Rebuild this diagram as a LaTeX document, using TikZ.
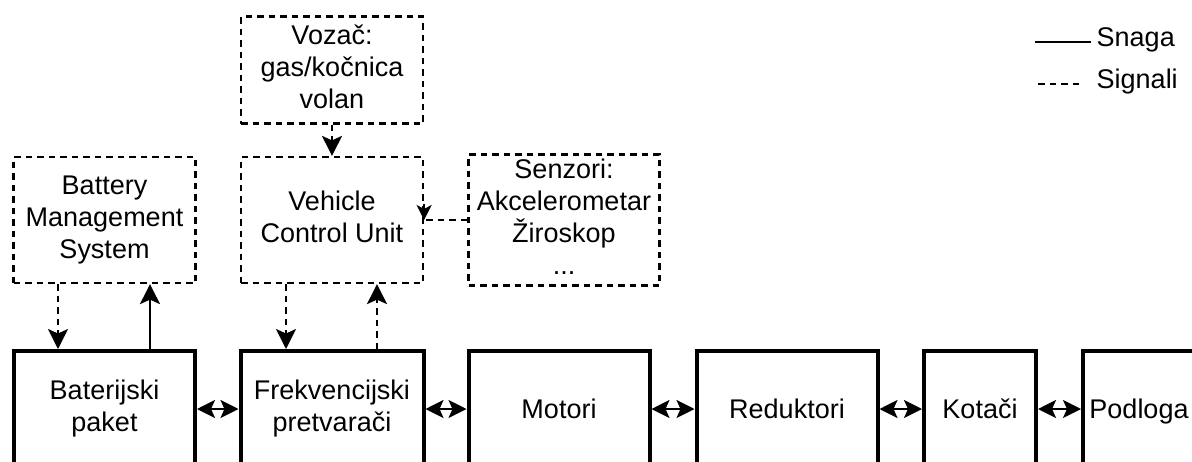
\documentclass[tikz,border=0pt]{standalone}
\usepackage{fontspec}
\setmainfont{Liberation Sans}
\usetikzlibrary{arrows.meta}
\newcommand\dtop{\rule{0pt}{25.5pt}}
\newcommand\dbot{\rule[-6.5pt]{0pt}{6.5pt}}
\begin{document}
\begin{tikzpicture}[x=1pt,y=-1pt,
  txt/.style={font=\fontsize{27pt}{32pt}\selectfont, align=center, inner sep=0pt},
  boxtxt/.style={txt, execute at begin node=\dtop, execute at end node=\dbot},
  sigbox/.style={boxtxt, draw, line width=2.2pt, dash pattern=on 6.5pt off 5pt},
  pbox/.style={boxtxt, draw, line width=4pt, minimum height=116pt},
  sig/.style={line width=2.2pt, dash pattern=on 6.5pt off 5pt},
  pow/.style={line width=2.2pt},
  tip/.style={-{Stealth[length=20pt,width=20pt,inset=4.5pt]}},
  stip/.style={-{Stealth[length=15pt,width=15pt,inset=4pt]}},
  dtip/.style={{Stealth[length=18pt,width=18pt,inset=4pt]}-{Stealth[length=18pt,width=18pt,inset=4pt]}}
]
\useasboundingbox (0,0) rectangle (1192,461);
\clip (0,0) rectangle (1192,461);

% signal boxes
\node[sigbox, minimum width=182pt, minimum height=107pt] (voz) at (332,70) {Vozač:\\gas/kočnica\\volan};
\node[sigbox, minimum width=182pt, minimum height=126pt] (vcu) at (332,220) {Vehicle\\Control Unit};
\node[sigbox, minimum width=182pt, minimum height=126pt] (bms) at (104.5,220) {Battery\\Management\\System};
\node[sigbox, minimum width=191pt, minimum height=131pt] (sen) at (564,220) {Senzori:\\Akcelerometar\\Žiroskop\\...};

% power chain
\node[pbox, minimum width=181pt] (bat) at (104.5,409) {Baterijski\\paket};
\node[pbox, minimum width=183pt] (frek) at (332,409) {Frekvencijski\\pretvarači};
\node[pbox, minimum width=181pt] (mot) at (559,409) {Motori};
\node[pbox, minimum width=181pt] (red) at (787,409) {Reduktori};
\node[pbox, minimum width=112pt] (kot) at (980,409) {Kotači};
\node[pbox, minimum width=112pt] (pod) at (1139,409) {Podloga};

% horizontal power links
\draw[pow,dtip] (bat) -- (frek);
\draw[pow,dtip] (frek) -- (mot);
\draw[pow,dtip] (mot) -- (red);
\draw[pow,dtip] (red) -- (kot);
\draw[pow,dtip] (kot) -- (pod);

% vertical links
\draw[sig,tip] (voz.south) -- (vcu.north);
\draw[sig] (sen.west) -- (vcu.east);
\draw[sig,stip] ([yshift=16pt]vcu.east) -- (vcu.east);
\draw[sig,tip] ([xshift=-46.5pt]bms.south) -- ([xshift=-46.5pt]bat.north);
\draw[pow,tip] ([xshift=45.5pt]bat.north) -- ([xshift=45.5pt]bms.south);
\draw[sig,tip] ([xshift=-46pt]vcu.south) -- ([xshift=-46pt]frek.north);
\draw[sig,tip] ([xshift=45pt]frek.north) -- ([xshift=45pt]vcu.south);

% legend
\coordinate (la) at (1035,42);
\coordinate (lb) at (1091,42);
\coordinate (lc) at (1038,84);
\coordinate (ld) at (1082,84);
\draw[pow] (la) -- (lb);
\draw[line width=1.6pt, dash pattern=on 6.5pt off 5pt] (lc) -- (ld);
\node[txt, anchor=base west] (snaga) at (1096.5,46.5) {Snaga};
\node[txt, anchor=base west] (signali) at (1096.5,88) {Signali};
\end{tikzpicture}
\end{document}
